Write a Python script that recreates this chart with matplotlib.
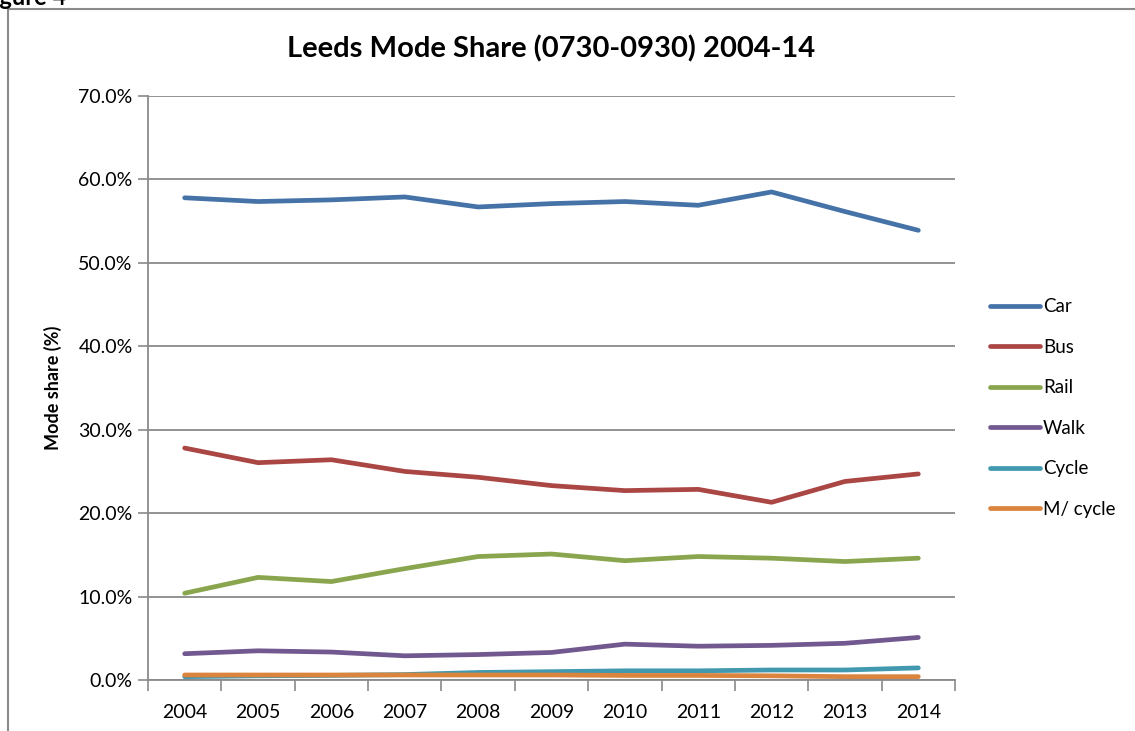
import matplotlib
matplotlib.use("Agg")
import matplotlib.pyplot as plt
from matplotlib.patches import Rectangle
from matplotlib.ticker import FixedLocator, PercentFormatter

plt.rcParams['font.family'] = ['Lato', 'DejaVu Sans']

# data (mode share, %)
years = ['2004', '2005', '2006', '2007', '2008', '2009', '2010', '2011', '2012', '2013', '2014']
car = [57.8, 57.35, 57.55, 57.9, 56.7, 57.1, 57.35, 56.9, 58.5, 56.15, 53.9]
bus = [27.8, 26.05, 26.4, 25.0, 24.3, 23.3, 22.7, 22.85, 21.3, 23.8, 24.7]
rail = [10.4, 12.3, 11.8, 13.35, 14.8, 15.1, 14.3, 14.8, 14.6, 14.2, 14.6]
walk = [3.15, 3.5, 3.35, 2.9, 3.05, 3.3, 4.3, 4.05, 4.15, 4.4, 5.1]
cycle = [0.4, 0.5, 0.55, 0.65, 0.9, 1.0, 1.1, 1.1, 1.2, 1.2, 1.45]
mcycle = [0.6, 0.6, 0.6, 0.6, 0.6, 0.6, 0.55, 0.55, 0.5, 0.4, 0.4]

series = [('Car', car, '#4572A7'), ('Bus', bus, '#AA4643'), ('Rail', rail, '#89A54E'),
          ('Walk', walk, '#71588F'), ('Cycle', cycle, '#4198AF'), ('M/ cycle', mcycle, '#DB843D')]

fig = plt.figure(figsize=(11.35, 7.31), dpi=100)
ax = fig.add_axes([148/1135, 1-680/731, (955-148)/1135, (680-96)/731])

# chart frame (cut off at the right and bottom like the source)
fig.patches.append(Rectangle((8/1135, -0.05), 1.2, 1-9/731+0.05, transform=fig.transFigure,
                             fill=False, edgecolor='#8a8a8a', linewidth=1.5))
fig.text(-0.018, 1-5/731, 'Figure 4', fontsize=17, fontweight='bold', va='baseline', ha='left')

x = range(len(years))
for name, vals, col in series:
    ax.plot(x, vals, color=col, linewidth=3.4, label=name, solid_capstyle='round')

ax.set_xlim(-0.5, len(years) - 0.5)
ax.set_ylim(0, 70)
ax.set_yticks(range(0, 71, 10))
ax.yaxis.set_major_formatter(PercentFormatter(decimals=1))
ax.set_xticks(list(x))
ax.set_xticklabels(years)
ax.xaxis.set_minor_locator(FixedLocator([i - 0.5 for i in range(len(years) + 1)]))
ax.tick_params(axis='x', which='major', length=0, labelsize=14, pad=17)
ax.tick_params(axis='x', which='minor', length=8, color='#8a8a8a', width=1.2)
ax.tick_params(axis='y', length=7, color='#8a8a8a', width=1.2, labelsize=14, pad=4)

ax.grid(axis='y', color='#8a8a8a', linewidth=1.3)
ax.set_axisbelow(True)
for s in ['top', 'right']:
    ax.spines[s].set_visible(False)
for s in ['left', 'bottom']:
    ax.spines[s].set_color('#8a8a8a')
    ax.spines[s].set_linewidth(1.3)

ax.set_ylabel('Mode share (%)', fontsize=13, fontweight='bold', labelpad=12)
ax.set_title('Leeds Mode Share (0730-0930) 2004-14', fontsize=21, fontweight='bold', pad=28)

fig.legend(loc='upper left', bbox_to_anchor=(982/1135, 1-291/731), frameon=False,
           fontsize=13.5, handlelength=2.7, handletextpad=0.15, labelspacing=1.25,
           borderaxespad=0)

fig.savefig('out.png', dpi=100)
